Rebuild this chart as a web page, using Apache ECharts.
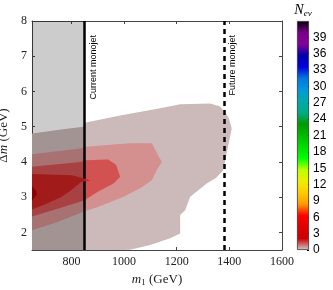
<!DOCTYPE html>
<html><head><meta charset="utf-8">
<script src="https://cdn.jsdelivr.net/npm/echarts@6/dist/echarts.min.js"></script>
<style>html,body{margin:0;padding:0;background:#fff}#c{width:333px;height:290px}</style>
</head><body><div id="c"></div>
<script>
// ---- data ----
const xTicks = [800, 1000, 1200, 1400, 1600];
const yTicks = [2, 3, 4, 5, 6, 7, 8];
const cbTicks = [0, 3, 6, 9, 12, 15, 18, 21, 24, 27, 30, 33, 36, 39];
const cbMax = 42;
const currentMonojet = 850;
const futureMonojet = 1380;
const excludedRange = [650, 850];
// contour regions (m1 GeV, dm GeV), outermost to innermost
const level1 = [[650,1.5],[650,4.81],[760,4.92],[845,5.0],[855,5.12],[985,5.32],[1137,5.52],[1213,5.64],[1327,5.66],[1365,5.57],[1396,5.28],[1409,4.95],[1396,4.48],[1383,4.0],[1375,3.75],[1350,3.55],[1314,3.39],[1251,3.01],[1232,2.63],[1213,2.49],[1213,1.97],[1175,1.83],[1099,1.64],[1023,1.51],[1000,1.5]];
const level2 = [[650,2.06],[750,2.3],[850,2.6],[900,2.72],[1000,3.02],[1061,3.25],[1105,3.48],[1124,3.77],[1143,4.0],[1105,4.53],[1020,4.53],[855,4.43],[833,4.38],[650,4.22]];
const level3 = [[650,2.45],[760,2.7],[850,2.91],[900,3.15],[960,3.39],[985,3.58],[970,3.91],[940,4.07],[855,4.05],[833,4.0],[650,3.86]];
const level4 = [[650,2.65],[700,2.8],[760,3.0],[800,3.2],[836,3.43],[871,3.47],[845,3.54],[800,3.62],[650,3.66]];
const level5 = [[650,2.9],[668,3.08],[665,3.18],[650,3.32]];

const levels = [level1, level2, level3, level4, level5];
const levelColors = ['#ccb9b9', '#d48f8f', '#d25252', '#cb2222', '#b30000'];

const nipy = [[0,'#000000'],[0.05,'#770088'],[0.10,'#880099'],[0.15,'#0000aa'],[0.20,'#0000dd'],[0.25,'#0077dd'],[0.30,'#0099dd'],[0.35,'#00aaaa'],[0.40,'#00aa88'],[0.45,'#009900'],[0.50,'#00bb00'],[0.55,'#00dd00'],[0.60,'#00ff00'],[0.65,'#bbff00'],[0.70,'#eeee00'],[0.75,'#ffcc00'],[0.80,'#ff9900'],[0.85,'#ff0000'],[0.90,'#dd0000'],[0.95,'#cc0000'],[1.0,'#cccccc']];

const chart = echarts.init(document.getElementById('c'), null, {renderer: 'canvas'});
const serif = 'Liberation Serif';
const axisLineStyle = {color: '#444', width: 1};
const plain = v => String(v);

function polySeries(poly, color, z) {
  return {
    type: 'custom', xAxisIndex: 0, yAxisIndex: 0, z: z, silent: true,
    data: [0],
    renderItem: function (params, api) {
      const pts = poly.map(p => api.coord(p));
      return {type: 'polygon', shape: {points: pts}, style: {fill: color, stroke: null}};
    }
  };
}

const series = levels.map((lv, i) => polySeries(lv, levelColors[i], 2 + i));
const overlay = [[excludedRange[0], 1.5], [excludedRange[1], 1.5], [excludedRange[1], 8], [excludedRange[0], 8]];
series.push(polySeries(overlay, 'rgba(0,0,0,0.2)', 10));
const lineLabel = {show: true, position: 'insideEndBottom', color: '#000', fontSize: 9, fontFamily: 'Liberation Sans', distance: [14, 4]};
series.push({
  type: 'line', xAxisIndex: 0, yAxisIndex: 0, data: [], z: 11, silent: true,
  markLine: {
    silent: true, symbol: ['none', 'none'], animation: false,
    data: [
      {xAxis: currentMonojet, lineStyle: {color: '#000', width: 2.5, type: 'solid'},
       label: Object.assign({formatter: 'Current monojet'}, lineLabel)},
      {xAxis: futureMonojet, lineStyle: {color: '#000', width: 2.5, type: [5, 4]},
       label: Object.assign({formatter: 'Future monojet'}, lineLabel)}
    ]
  }
});
// colorbar
series.push({
  type: 'bar', xAxisIndex: 2, yAxisIndex: 2, data: [cbMax], barWidth: '100%', silent: true,
  itemStyle: {
    color: new echarts.graphic.LinearGradient(0, 1, 0, 0, nipy.map(s => ({offset: 1 - s[0], color: s[1]})).reverse()),
    borderColor: '#333', borderWidth: 0.8
  }
});

chart.setOption({
  animation: false,
  grid: [
    {left: 32, top: 21, width: 250, height: 229, outerBoundsMode: 'none', containLabel: false},
    {left: 297, top: 21, width: 12, height: 229, outerBoundsMode: 'none', containLabel: false}
  ],
  xAxis: [
    {type: 'value', gridIndex: 0, min: 650, max: 1600, position: 'bottom',
     axisLine: {show: true, onZero: false, lineStyle: axisLineStyle},
     axisTick: {show: true, inside: true, length: 3, customValues: xTicks, lineStyle: axisLineStyle},
     axisLabel: {customValues: xTicks, formatter: plain, color: '#222', fontFamily: serif, fontSize: 12, margin: 6},
     splitLine: {show: false},
     name: '{i|m}{s|1} {n|(GeV)}', nameLocation: 'middle', nameGap: 19,
     nameTextStyle: {rich: {
       i: {fontFamily: serif, fontStyle: 'italic', fontSize: 13, color: '#222'},
       s: {fontFamily: serif, fontSize: 9, color: '#222', verticalAlign: 'bottom', padding: [6, 0, 0, 0]},
       n: {fontFamily: serif, fontSize: 13, color: '#222'}}}},
    {type: 'value', gridIndex: 0, min: 650, max: 1600, position: 'top',
     axisLine: {show: true, onZero: false, lineStyle: axisLineStyle},
     axisTick: {show: true, inside: true, length: 3, customValues: xTicks, lineStyle: axisLineStyle},
     axisLabel: {show: false}, splitLine: {show: false}},
    {type: 'category', gridIndex: 1, data: ['cb'], show: false}
  ],
  yAxis: [
    {type: 'value', gridIndex: 0, min: 1.5, max: 8, position: 'left',
     axisLine: {show: true, onZero: false, lineStyle: axisLineStyle},
     axisTick: {show: true, inside: true, length: 3, customValues: yTicks, lineStyle: axisLineStyle},
     axisLabel: {customValues: yTicks, formatter: plain, color: '#222', fontFamily: serif, fontSize: 12, margin: 5},
     splitLine: {show: false},
     name: '{n|Δ}{i|m} {n|(GeV)}', nameLocation: 'middle', nameGap: 12,
     nameTextStyle: {rich: {
       i: {fontFamily: serif, fontStyle: 'italic', fontSize: 13, color: '#222'},
       n: {fontFamily: serif, fontSize: 13, color: '#222'}}}},
    {type: 'value', gridIndex: 0, min: 1.5, max: 8, position: 'right',
     axisLine: {show: true, onZero: false, lineStyle: axisLineStyle},
     axisTick: {show: true, inside: true, length: 3, customValues: yTicks, lineStyle: axisLineStyle},
     axisLabel: {show: false}, splitLine: {show: false}},
    {type: 'value', gridIndex: 1, min: 0, max: cbMax, position: 'right',
     axisLine: {show: false},
     axisTick: {show: true, inside: true, length: 2, customValues: cbTicks, lineStyle: {color: '#000'}},
     axisLabel: {customValues: cbTicks, formatter: plain, color: '#000', fontFamily: 'Liberation Sans', fontSize: 12, margin: 4},
     splitLine: {show: false},
     name: '{i|N}{s|ev}', nameLocation: 'end', nameGap: 3,
     nameTextStyle: {align: 'center', padding: [0, 0, 0, -12], rich: {
       i: {fontFamily: serif, fontStyle: 'italic', fontSize: 14, color: '#000'},
       s: {fontFamily: serif, fontStyle: 'italic', fontSize: 9, color: '#000', verticalAlign: 'bottom', padding: [6, 0, 0, 0]}}}}
  ],
  series: series
});
</script></body></html>
